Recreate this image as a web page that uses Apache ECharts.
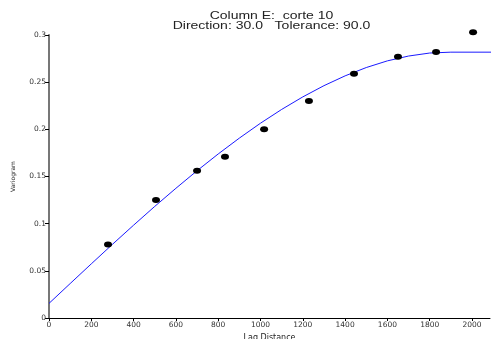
<!DOCTYPE html>
<html><head><meta charset="utf-8">
<script src="https://cdn.jsdelivr.net/npm/echarts@6/dist/echarts.min.js"></script>
<style>html,body{margin:0;padding:0;background:#fff}#c{width:491px;height:339px}</style>
</head><body><div id="c"></div>
<script>
var titleLines = ['Column E:  corte 10', 'Direction: 30.0   Tolerance: 90.0'];
var xTicks = [0, 200, 400, 600, 800, 1000, 1200, 1400, 1600, 1800, 2000];
var yTicks = [0, 0.05, 0.1, 0.15, 0.2, 0.25, 0.3];
var lagX = [279, 506, 700, 832, 1017, 1229, 1442, 1650, 1830, 2005];
var gammaY = [0.078, 0.125, 0.156, 0.171, 0.200, 0.230, 0.259, 0.277, 0.282, 0.303];
var modelX = [0, 100, 200, 300, 400, 500, 600, 700, 800, 900, 1000, 1100, 1200, 1300, 1400, 1500, 1600, 1700, 1800, 1900, 2090];
var modelY = [0.0155, 0.0365, 0.0574, 0.0781, 0.0984, 0.1183, 0.1375, 0.1561, 0.1739, 0.1907, 0.2065, 0.2211, 0.2344, 0.2463, 0.2567, 0.2655, 0.2726, 0.2777, 0.2809, 0.2818, 0.2818];

var chart = echarts.init(document.getElementById('c'), null, {renderer: 'canvas'});
var font = 'Liberation Sans, Arial, Helvetica, sans-serif';
var tickFont = 'DejaVu Sans, sans-serif';
chart.setOption({
  animation: false,
  graphic: titleLines.map(function(t, i){
    return {
      type: 'text', x: 271.5, y: 16.5 + i * 9.5, scaleX: 1.4, silent: true,
      style: {text: t, fill: '#222', font: '10px ' + font, textAlign: 'center', textVerticalAlign: 'middle'}
    };
  }),
  grid: {left: 49, right: 1, top: 35, bottom: 21, containLabel: false, outerBoundsMode: 'none'},
  xAxis: {
    type: 'value', min: 0, max: 2085,
    name: 'Lag Distance', nameLocation: 'middle', nameGap: 14,
    nameTextStyle: {fontFamily: tickFont, fontSize: 8, color: '#222'},
    axisLine: {show: true, onZero: false, lineStyle: {color: '#000', width: 1}},
    axisTick: {show: true, length: 3, customValues: xTicks, lineStyle: {color: '#000'}},
    axisLabel: {customValues: xTicks, fontFamily: tickFont, fontSize: 7.5, color: '#333', margin: 3,
      formatter: function(v){ return String(v); }},
    splitLine: {show: false}
  },
  yAxis: {
    type: 'value', min: 0, max: 0.3,
    name: 'Variogram', nameLocation: 'middle', nameGap: 33, nameRotate: 90,
    nameTextStyle: {fontFamily: tickFont, fontSize: 6, color: '#222'},
    axisLine: {show: true, lineStyle: {color: '#777', width: 2}},
    axisTick: {show: true, length: 4, customValues: yTicks, lineStyle: {color: '#000'}},
    axisLabel: {customValues: yTicks, fontFamily: tickFont, fontSize: 7.5, color: '#333', margin: 3,
      formatter: function(v){ return String(Math.round(v*100)/100); }},
    splitLine: {show: false}
  },
  series: [
    {
      type: 'line', data: modelX.map(function(x, i){ return [x, modelY[i]]; }),
      showSymbol: false, smooth: false, clip: true,
      lineStyle: {color: '#1a1aff', width: 1}, z: 2
    },
    {
      type: 'scatter', data: lagX.map(function(x, i){ return [x, gammaY[i]]; }),
      symbol: 'circle', symbolSize: [8, 6], clip: false,
      itemStyle: {color: '#000', opacity: 1}, z: 3
    }
  ]
});
</script></body></html>
